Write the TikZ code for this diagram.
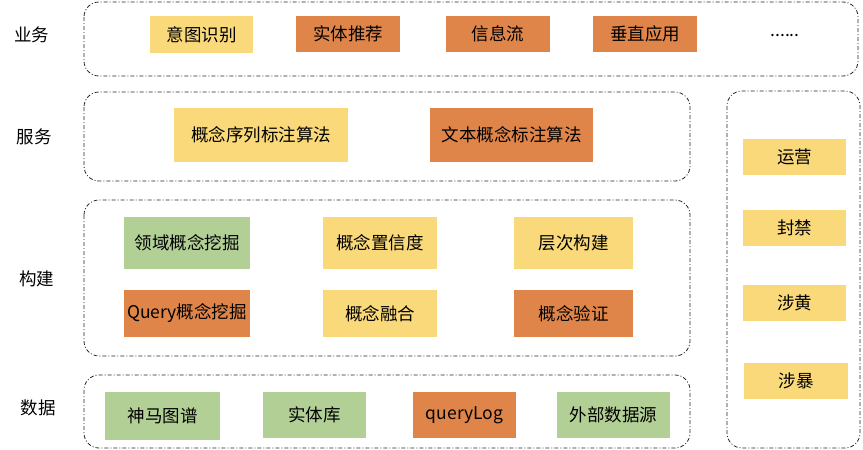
\documentclass[tikz,border=0pt]{standalone}
\usepackage{fontspec}
\setmainfont{Noto Sans CJK SC}
\definecolor{cy}{HTML}{F9D97A}
\definecolor{co}{HTML}{E0854A}
\definecolor{cg}{HTML}{B2CF96}
\begin{document}
\begin{tikzpicture}[x=1pt,y=-1pt,
  layer/.style={draw=black!85,line width=0.8pt,dash pattern=on 4pt off 2pt on 1pt off 2pt,rounded corners=15pt},
  lbl/.style={font=\fontsize{17.5}{20}\selectfont,anchor=center},
  bx/.style={font=\fontsize{17.5}{20}\selectfont,inner sep=0pt,anchor=center},
  yb/.style={bx,fill=cy},
  ob/.style={bx,fill=co},
  gb/.style={bx,fill=cg}]
\useasboundingbox (0,0) rectangle (863,450);
% layer frames
\draw[layer] (84,2) rectangle (858,76);
\draw[layer] (84,92) rectangle (690,181);
\draw[layer] (84,200) rectangle (690,356);
\draw[layer] (84,375) rectangle (690,448);
\draw[layer] (727,91) rectangle (860,448);
% layer labels
\node[lbl] (l1) at (32,35) {业务};
\node[lbl] (l2) at (34,137) {服务};
\node[lbl] (l3) at (37,279) {构建};
\node[lbl] (l4) at (38,408) {数据};
% business
\node[yb,minimum width=103pt,minimum height=37pt] (b1) at (201.5,34.5) {意图识别};
\node[ob,minimum width=104pt,minimum height=36pt] (b2) at (348,34) {实体推荐};
\node[ob,minimum width=104pt,minimum height=36pt] (b3) at (498,34) {信息流};
\node[ob,minimum width=104pt,minimum height=36pt] (b4) at (645,34) {垂直应用};
\node[lbl] (b5) at (785,36) {......};
% service
\node[yb,minimum width=174pt,minimum height=54pt] (s1) at (261,135) {概念序列标注算法};
\node[ob,minimum width=163pt,minimum height=54pt] (s2) at (511.5,135) {文本概念标注算法};
% build
\node[gb,minimum width=126pt,minimum height=52pt] (c1) at (187,243) {领域概念挖掘};
\node[yb,minimum width=114pt,minimum height=52pt] (c2) at (380,243) {概念置信度};
\node[yb,minimum width=119pt,minimum height=52pt] (c3) at (573.5,243) {层次构建};
\node[ob,minimum width=126pt,minimum height=47pt] (c4) at (187,313.5) {Query概念挖掘};
\node[yb,minimum width=114pt,minimum height=47pt] (c5) at (380,313.5) {概念融合};
\node[ob,minimum width=119pt,minimum height=47pt] (c6) at (573.5,313.5) {概念验证};
% data
\node[gb,minimum width=115pt,minimum height=48pt] (d1) at (162.5,416) {神马图谱};
\node[gb,minimum width=103pt,minimum height=46pt] (d2) at (314.5,415) {实体库};
\node[ob,minimum width=103pt,minimum height=46pt] (d3) at (464.5,415) {queryLog};
\node[gb,minimum width=113pt,minimum height=46pt] (d4) at (613.5,415) {外部数据源};
% right column
\node[yb,minimum width=103pt,minimum height=36pt] (r1) at (794.5,157) {运营};
\node[yb,minimum width=103pt,minimum height=36pt] (r2) at (794.5,228) {封禁};
\node[yb,minimum width=103pt,minimum height=36pt] (r3) at (794.5,303) {涉黄};
\node[yb,minimum width=104pt,minimum height=36pt] (r4) at (796,381) {涉暴};
\end{tikzpicture}
\end{document}
